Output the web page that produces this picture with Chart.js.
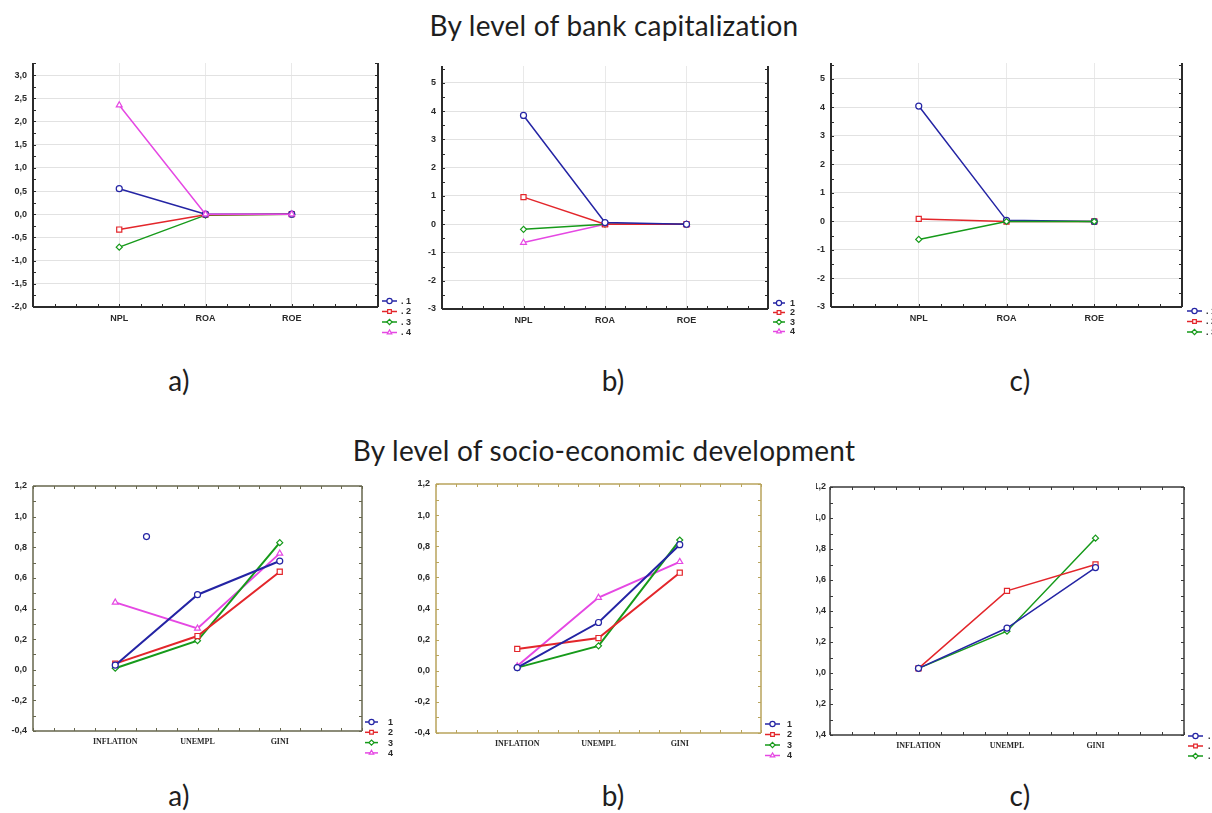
<!DOCTYPE html>
<html>
<head>
<meta charset="utf-8">
<script src="https://cdn.jsdelivr.net/npm/chart.js@4.4.1/dist/chart.umd.min.js"></script>
<style>
  html, body { margin: 0; padding: 0; background: #fff; width: 1212px; height: 813px; overflow: hidden; position: relative; }
  .t { position: absolute; color: #1e1e1e; font-family: Lato, "Open Sans", sans-serif; font-size: 28px; letter-spacing: 0.2px; line-height: 1; white-space: nowrap; transform: translateX(-50%); }
  .wrap { position: absolute; overflow: hidden; }
  canvas { position: absolute; }
</style>
</head>
<body>
<div class="t" style="left:614px;top:11px">By level of bank capitalization</div>
<div class="t" style="left:179px;top:366px">a)</div>
<div class="t" style="left:613px;top:366px">b)</div>
<div class="t" style="left:1020px;top:366px">c)</div>
<div class="t" style="left:604px;top:436px">By level of socio-economic development</div>
<div class="t" style="left:179px;top:781px">a)</div>
<div class="t" style="left:613px;top:781px">b)</div>
<div class="t" style="left:1020px;top:781px">c)</div>

<script>
// ---- categories ----
const capCategories = ['NPL', 'ROA', 'ROE'];
const devCategories = ['INFLATION', 'UNEMPL', 'GINI'];

// ---- bank capitalization, panel a (4 groups) ----
const capA1 = [0.55, 0.00, 0.00];
const capA2 = [-0.33, -0.01, 0.00];
const capA3 = [-0.71, -0.02, 0.00];
const capA4 = [2.35, 0.00, 0.00];

// ---- bank capitalization, panel b (4 groups) ----
const capB1 = [3.85, 0.06, 0.00];
const capB2 = [0.96, 0.00, 0.00];
const capB3 = [-0.18, 0.00, 0.00];
const capB4 = [-0.65, 0.00, 0.00];

// ---- bank capitalization, panel c (3 groups) ----
const capC1 = [4.05, 0.04, 0.00];
const capC2 = [0.09, 0.00, 0.00];
const capC3 = [-0.63, 0.00, 0.00];

// ---- socio-economic development, panel a (4 groups) ----
const devA1 = [0.03, 0.49, 0.71];
const devA2 = [0.04, 0.22, 0.64];
const devA3 = [0.01, 0.19, 0.83];
const devA4 = [0.44, 0.27, 0.76];
const devAStray = [1.38, 0.87];   // lone group-1 marker between INFLATION and UNEMPL

// ---- socio-economic development, panel b (4 groups) ----
const devB1 = [0.02, 0.31, 0.81];
const devB2 = [0.14, 0.21, 0.63];
const devB3 = [0.02, 0.16, 0.84];
const devB4 = [0.03, 0.47, 0.70];

// ---- socio-economic development, panel c (3 groups) ----
const devC1 = [0.03, 0.29, 0.68];
const devC2 = [0.03, 0.53, 0.70];
const devC3 = [0.03, 0.27, 0.87];

// ---- tick labels ----
const capATicks = [3.0, 2.5, 2.0, 1.5, 1.0, 0.5, 0.0, -0.5, -1.0, -1.5, -2.0];
const capBCTicks = [5, 4, 3, 2, 1, 0, -1, -2, -3];
const devTicks = [1.2, 1.0, 0.8, 0.6, 0.4, 0.2, 0.0, -0.2, -0.4];

// ---- series styles (group 1..4) ----
const SERIES = [
  { color: '#2424a4', style: 'circle', radius: 3 },
  { color: '#e3262b', style: 'rect', radius: 3.6 },
  { color: '#169a1a', style: 'rectRot', radius: 3 },
  { color: '#e548e3', style: 'triangle', radius: 3.4 }
];

const commaFmt = v => v.toFixed(1).replace('.', ',');
const intFmt = v => String(Math.round(v));

// frame + inward minor ticks, drawn like a statistics package plot box
const statFrame = {
  id: 'statFrame',
  afterDatasetsDraw(chart, args, o) {
    const { ctx, chartArea: a, scales } = chart;
    const x = scales.x, y = scales.y;
    ctx.save();
    ctx.strokeStyle = o.color;
    ctx.lineWidth = o.width;
    ctx.beginPath();
    if (o.sides.includes('left'))   { ctx.moveTo(a.left, a.top); ctx.lineTo(a.left, a.bottom); }
    if (o.sides.includes('right'))  { ctx.moveTo(a.right, a.top); ctx.lineTo(a.right, a.bottom); }
    if (o.sides.includes('bottom')) { ctx.moveTo(a.left, a.bottom); ctx.lineTo(a.right, a.bottom); }
    if (o.sides.includes('top'))    { ctx.moveTo(a.left, a.top); ctx.lineTo(a.right, a.top); }
    ctx.stroke();
    ctx.lineWidth = 1;
    ctx.beginPath();
    for (let v = x.min; v <= x.max + 1e-9; v += 0.25) {
      const px = Math.round(x.getPixelForValue(v)) + 0.5;
      ctx.moveTo(px, a.bottom); ctx.lineTo(px, a.bottom - 3);
      if (o.sides.includes('top')) { ctx.moveTo(px, a.top); ctx.lineTo(px, a.top + 3); }
    }
    const n = Math.round((y.max - o.yStart) / o.yMinor);
    for (let i = 0; i <= n; i++) {
      const v = o.yStart + i * o.yMinor;
      if (v > y.max + 1e-9) break;
      const py = Math.round(y.getPixelForValue(v)) + 0.5;
      ctx.moveTo(a.left, py); ctx.lineTo(a.left + 3, py);
      if (o.sides.includes('right')) { ctx.moveTo(a.right, py); ctx.lineTo(a.right - 3, py); }
    }
    ctx.stroke();
    ctx.restore();
  }
};

// line + marker legend set in the lower right, outside the plot box
const statLegend = {
  id: 'statLegend',
  afterDraw(chart, args, o) {
    const { ctx, chartArea: a } = chart;
    ctx.save();
    let row = 0;
    chart.data.datasets.forEach(ds => {
      if (ds.noLegend) return;
      const yy = a.bottom + o.dy + row * o.gap;
      const x0 = a.right + o.dx;
      ctx.strokeStyle = ds.borderColor;
      ctx.lineWidth = 1.5;
      ctx.beginPath();
      ctx.moveTo(x0, yy); ctx.lineTo(x0 + o.len, yy);
      ctx.stroke();
      ctx.fillStyle = '#fff';
      ctx.strokeStyle = ds.borderColor;
      ctx.lineWidth = 1.2;
      Chart.helpers.drawPoint(ctx, { pointStyle: ds.pointStyle, radius: 2.6, borderWidth: 1.2 }, x0 + o.len / 2, yy);
      ctx.fillStyle = '#2a2a2a';
      ctx.font = 'bold 9px "Liberation Sans", Arial, sans-serif';
      ctx.textBaseline = 'middle';
      ctx.fillText(o.prefix + ds.label, x0 + o.len + o.labelGap, yy + 0.5);
      row++;
    });
    ctx.restore();
  }
};

function seriesSets(list, lineWidth, orders) {
  return list.map((vals, i) => ({
    label: String(i + 1),
    data: vals.map((v, k) => ({ x: k + 1, y: v })),
    borderColor: SERIES[i].color,
    backgroundColor: '#fff',
    borderWidth: lineWidth,
    pointStyle: SERIES[i].style,
    pointRadius: SERIES[i].radius,
    pointBorderWidth: 1.2,
    pointBackgroundColor: '#fff',
    pointBorderColor: SERIES[i].color,
    order: orders ? orders[i] : i,
    tension: 0
  }));
}

function makePanel(p) {
  const [l, t, r, b] = p.area;
  const YW = 40, XH = 24, PT = 12, PR = 50, PB = 16;
  const w = (r - l) + YW + PR, h = (b - t) + PT + XH + PB;
  const left = l - YW, top = t - PT;
  const host = document.createElement('div');
  host.className = 'wrap';
  const clipL = p.clipLeft !== undefined ? p.clipLeft : left;
  host.style.left = clipL + 'px';
  host.style.top = top + 'px';
  host.style.width = (w - (clipL - left)) + 'px';
  host.style.height = h + 'px';
  const cv = document.createElement('canvas');
  cv.width = w; cv.height = h;
  cv.style.width = w + 'px'; cv.style.height = h + 'px';
  cv.style.left = (left - clipL) + 'px';
  cv.style.top = '0px';
  host.appendChild(cv);
  document.body.appendChild(host);

  const cats = p.categories;
  new Chart(cv, {
    type: 'line',
    data: { datasets: p.datasets },
    options: {
      responsive: false,
      animation: false,
      devicePixelRatio: 1,
      layout: { padding: { top: PT, right: PR, left: 0, bottom: PB } },
      scales: {
        x: {
          type: 'linear', min: 0, max: 4,
          afterBuildTicks: s => { s.ticks = [1, 2, 3].map(v => ({ value: v })); },
          afterFit: s => { s.height = XH; },
          ticks: { callback: v => cats[v - 1], font: p.xFont, color: '#2a2a2a', padding: p.xPad, maxRotation: 0, autoSkip: false },
          grid: { display: p.grid, color: '#e9e9e9', lineWidth: 1, drawTicks: false },
          border: { display: false }
        },
        y: {
          type: 'linear', min: p.yMin, max: p.yMax,
          afterBuildTicks: s => { s.ticks = p.yTicks.map(v => ({ value: v })); },
          afterFit: s => { s.width = YW; },
          ticks: { callback: v => p.fmt(v), font: { family: '"Liberation Sans", Arial, sans-serif', size: 9, weight: 'bold' }, color: '#2a2a2a', padding: p.yPad || 6, autoSkip: false },
          grid: { display: p.grid, color: '#e2e2e2', lineWidth: 1, drawTicks: false },
          border: { display: false }
        }
      },
      plugins: {
        legend: { display: false },
        tooltip: { enabled: false },
        statFrame: p.frame,
        statLegend: p.legend
      }
    },
    plugins: [statFrame, statLegend]
  });
}

const sansX = { family: '"Liberation Sans", Arial, sans-serif', size: 9, weight: 'bold' };
const serifX = { family: '"Liberation Serif", "Times New Roman", serif', size: 8, weight: 'bold' };
const topFrame = c => ({ sides: ['left', 'bottom', 'right'], color: c, width: 2, yStart: 0, yMinor: 0 });

const devAStraySet = {
  label: '', noLegend: true,
  data: [{ x: devAStray[0], y: devAStray[1] }],
  showLine: false,
  borderColor: SERIES[0].color,
  pointStyle: 'circle', pointRadius: 3, pointBorderWidth: 1.2,
  pointBackgroundColor: '#fff', pointBorderColor: SERIES[0].color,
  order: 5
};

const panels = [
  {
    area: [33, 63, 378, 307], categories: capCategories,
    datasets: seriesSets([capA1, capA2, capA3, capA4], 1.5, [2, 3, 4, 1]),
    yMin: -2, yMax: 3.26, yTicks: capATicks, fmt: commaFmt,
    grid: true, xFont: sansX, xPad: 6,
    frame: Object.assign(topFrame('#2b2b2b'), { yStart: -2, yMinor: 0.25 }),
    legend: { dx: 4, dy: -6, gap: 10.5, len: 15, labelGap: 4, prefix: '. ' }
  },
  {
    area: [442, 66, 768, 309], categories: capCategories,
    datasets: seriesSets([capB1, capB2, capB3, capB4], 1.5),
    yMin: -3, yMax: 5.6, yTicks: capBCTicks, fmt: intFmt,
    grid: true, xFont: sansX, xPad: 6,
    frame: Object.assign(topFrame('#2b2b2b'), { yStart: -3, yMinor: 0.5 }),
    legend: { dx: 5, dy: -6, gap: 9.5, len: 12, labelGap: 5, prefix: '' }
  },
  {
    area: [831, 63, 1182, 307], categories: capCategories,
    datasets: seriesSets([capC1, capC2, capC3], 1.5, [2, 3, 1]),
    yMin: -3, yMax: 5.56, yTicks: capBCTicks, fmt: intFmt,
    grid: true, xFont: sansX, xPad: 6,
    frame: Object.assign(topFrame('#2b2b2b'), { yStart: -3, yMinor: 0.5 }),
    legend: { dx: 5, dy: 4, gap: 10.5, len: 15, labelGap: 4, prefix: '. ' }
  },
  {
    area: [33, 486, 362, 731], categories: devCategories,
    datasets: seriesSets([devA1, devA2, devA3, devA4], 2).concat([devAStraySet]),
    yMin: -0.4, yMax: 1.2, yTicks: devTicks, fmt: commaFmt,
    grid: false, xFont: serifX, xPad: 6,
    frame: { sides: ['left', 'bottom', 'right', 'top'], color: '#67674e', width: 1.5, yStart: -0.4, yMinor: 0.1 },
    legend: { dx: 3, dy: -9, gap: 10.3, len: 13, labelGap: 10, prefix: '' }
  },
  {
    area: [436, 484, 761, 733], categories: devCategories,
    datasets: seriesSets([devB1, devB2, devB3, devB4], 2),
    yMin: -0.4, yMax: 1.2, yTicks: devTicks, fmt: commaFmt,
    grid: false, xFont: serifX, xPad: 6,
    frame: { sides: ['left', 'bottom', 'right', 'top'], color: '#b9a45c', width: 1.5, yStart: -0.4, yMinor: 0.1 },
    legend: { dx: 4, dy: -9, gap: 10.5, len: 15, labelGap: 7, prefix: '' }
  },
  {
    area: [830, 487, 1184, 735], categories: devCategories, clipLeft: 816, yPad: 4,
    datasets: seriesSets([devC1, devC2, devC3], 1.5),
    yMin: -0.4, yMax: 1.2, yTicks: devTicks, fmt: commaFmt,
    grid: false, xFont: serifX, xPad: 6,
    frame: { sides: ['left', 'bottom', 'right', 'top'], color: '#3a3a3a', width: 1.5, yStart: -0.4, yMinor: 0.1 },
    legend: { dx: 4, dy: 1, gap: 10, len: 15, labelGap: 5, prefix: '. ' }
  }
];

panels.forEach(makePanel);
</script>
</body>
</html>
